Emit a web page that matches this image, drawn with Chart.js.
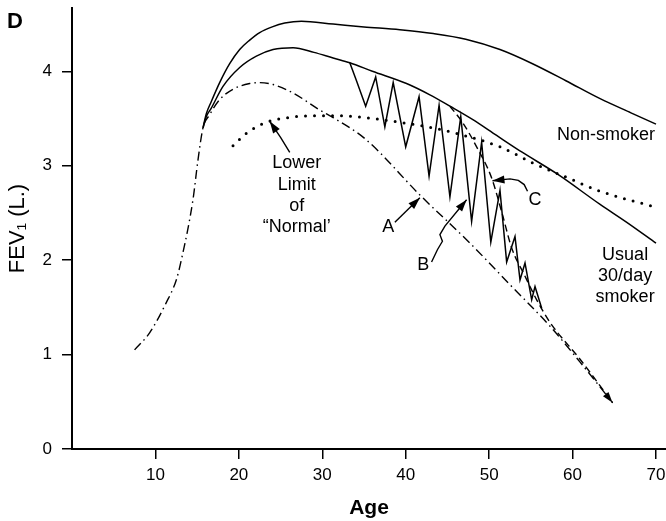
<!DOCTYPE html>
<html>
<head>
<meta charset="utf-8">
<script src="https://cdn.jsdelivr.net/npm/chart.js@4.4.1/dist/chart.umd.min.js"></script>
<style>
  html, body { margin: 0; padding: 0; background: #fff; }
  #wrap { width: 666px; height: 521px; }
</style>
</head>
<body>
<div id="wrap"><canvas id="fevChart" width="666" height="521"></canvas></div>
<script>
// ages (years) and FEV1 (litres)
const nonSmokerAge = [15.7, 16.1, 16.7, 17.7, 18.9, 20.1, 21.3, 22.5, 24.0, 25.5, 27.5, 31.3, 35.0, 39.3, 43.3, 47.2, 51.3, 55.2, 59.2, 63.3, 67.0, 70.0];
const nonSmokerFev = [3.40, 3.55, 3.68, 3.88, 4.08, 4.23, 4.33, 4.41, 4.47, 4.51, 4.53, 4.50, 4.47, 4.44, 4.40, 4.34, 4.23, 4.08, 3.90, 3.71, 3.56, 3.44];

const smokerAge = [15.7, 16.1, 16.7, 18.1, 20.1, 22.1, 24.1, 26.5, 29.0, 31.3, 33.3, 36.0, 40.1, 42.9, 45.3, 48.0, 50.9, 54.0, 58.2, 63.3, 66.5, 70.0];
const smokerFev = [3.40, 3.52, 3.61, 3.84, 4.04, 4.16, 4.23, 4.25, 4.20, 4.14, 4.09, 4.00, 3.87, 3.75, 3.63, 3.49, 3.32, 3.14, 2.91, 2.59, 2.40, 2.18];

const lowerLimitAge = [19.3, 21.0, 23.3, 26.0, 29.0, 32.0, 36.0, 40.0, 43.3, 47.0, 51.3, 55.2, 59.2, 63.3, 70.0];
const lowerLimitFev = [3.21, 3.35, 3.46, 3.51, 3.53, 3.53, 3.50, 3.45, 3.40, 3.32, 3.20, 3.03, 2.88, 2.73, 2.56];

// curve A (dash-dot), includes the growth phase
const curveAAge = [7.5, 9.3, 11.3, 12.5, 13.1, 14.5, 15.1, 15.7, 16.5, 17.7, 19.3, 21.3, 22.5, 24.1, 26.5, 29.7, 31.3, 35.2, 41.7, 47.7, 52.5, 57.3, 60.9, 64.8];
const curveAFev = [1.05, 1.23, 1.55, 1.79, 2.00, 2.64, 3.06, 3.40, 3.54, 3.70, 3.81, 3.87, 3.88, 3.86, 3.77, 3.59, 3.51, 3.28, 2.69, 2.18, 1.74, 1.30, 0.92, 0.49];

// curve B (zigzag)
const curveBAge = [33.3, 34.1, 35.2, 36.4, 37.5, 38.5, 40.0, 41.6, 42.8, 44.0, 45.3, 46.6, 47.9, 49.1, 50.2, 51.3, 52.1, 53.1, 53.7, 54.3, 55.1, 55.5, 56.3];
const curveBFev = [4.09, 3.90, 3.63, 3.94, 3.41, 3.88, 3.20, 3.73, 2.89, 3.64, 2.67, 3.52, 2.41, 3.25, 2.19, 2.74, 1.98, 2.25, 1.79, 1.97, 1.58, 1.72, 1.49];

// curve C (dashed)
const curveCAge = [45.3, 46.8, 48.5, 50.3, 51.6, 52.7, 54.3, 55.7, 57.3, 60.9, 64.8];
const curveCFev = [3.63, 3.46, 3.20, 2.87, 2.48, 2.13, 1.83, 1.58, 1.34, 0.95, 0.49];

const xTickValues = [10, 20, 30, 40, 50, 60, 70];
const yTickValues = [0, 1, 2, 3, 4];

const FONT = '"Liberation Sans", Arial, Helvetica, sans-serif';
Chart.defaults.font.family = FONT;
Chart.defaults.color = '#000';

function pts(ages, fevs) {
  return ages.map((a, i) => ({ x: a, y: fevs[i] }));
}

function arrowHead(ctx, fx, fy, tx, ty, len, half) {
  const ang = Math.atan2(ty - fy, tx - fx);
  const bx = tx - len * Math.cos(ang), by = ty - len * Math.sin(ang);
  ctx.beginPath();
  ctx.moveTo(tx, ty);
  ctx.lineTo(bx + half * Math.sin(ang), by - half * Math.cos(ang));
  ctx.lineTo(bx - half * Math.sin(ang), by + half * Math.cos(ang));
  ctx.closePath();
  ctx.fill();
}

// labels, pointer arrows and the panel letter
const notesPlugin = {
  id: 'notes',
  afterDraw(chart) {
    const { ctx, scales: { x, y } } = chart;
    const P = (a, f) => [x.getPixelForValue(a), y.getPixelForValue(f)];
    ctx.save();
    ctx.fillStyle = '#000';
    ctx.strokeStyle = '#000';
    ctx.lineWidth = 1.4;
    ctx.textAlign = 'center';
    ctx.textBaseline = 'middle';
    ctx.font = '18px ' + FONT;

    const text = (s, a, f) => { const [px, py] = P(a, f); ctx.fillText(s, px, py); };
    text('Lower', 26.95, 3.03);
    text('Limit', 26.95, 2.80);
    text('of', 26.95, 2.57);
    text('\u201CNormal\u2019', 26.95, 2.35);
    text('Non-smoker', 64.0, 3.33);
    text('Usual', 66.3, 2.05);
    text('30/day', 66.3, 1.83);
    text('smoker', 66.3, 1.61);
    text('A', 37.9, 2.35);
    text('B', 42.1, 1.95);
    text('C', 55.5, 2.64);

    const arrow = (list) => {
      const p = list.map(q => P(q[0], q[1]));
      ctx.beginPath();
      ctx.moveTo(p[0][0], p[0][1]);
      for (let i = 1; i < p.length; i++) ctx.lineTo(p[i][0], p[i][1]);
      ctx.stroke();
      const a = p[p.length - 2], b = p[p.length - 1];
      arrowHead(ctx, a[0], a[1], b[0], b[1], 12, 4);
    };
    arrow([[26.1, 3.14], [25.0, 3.30], [23.7, 3.47]]);
    arrow([[38.7, 2.40], [41.7, 2.66]]);
    arrow([[43.1, 1.98], [43.8, 2.11], [44.4, 2.20], [44.1, 2.27], [44.7, 2.36], [47.3, 2.64]]);
    arrow([[54.6, 2.73], [54.2, 2.80], [53.5, 2.845], [52.5, 2.86], [50.4, 2.84]]);

    // arrowhead at the end of A / C
    const e1 = P(60.9, 0.92), e2 = P(64.8, 0.49);
    arrowHead(ctx, e1[0], e1[1], e2[0], e2[1], 11, 3.5);

    ctx.textAlign = 'left';
    ctx.textBaseline = 'alphabetic';
    ctx.font = 'bold 22px ' + FONT;
    ctx.fillText('D', 7, 28);
    ctx.restore();
  }
};

const axisGrid = { display: true, drawOnChartArea: false, drawTicks: true, tickLength: 10, color: '#000', lineWidth: 1.5 };
const axisBorder = { display: true, color: '#000', width: 2 };

new Chart(document.getElementById('fevChart').getContext('2d'), {
  type: 'line',
  data: {
    datasets: [
      {
        label: 'Non-smoker',
        data: pts(nonSmokerAge, nonSmokerFev),
        borderColor: '#000', borderWidth: 1.5,
        cubicInterpolationMode: 'monotone', pointRadius: 0
      },
      {
        label: 'Usual 30/day smoker',
        data: pts(smokerAge, smokerFev),
        borderColor: '#000', borderWidth: 1.5,
        cubicInterpolationMode: 'monotone', pointRadius: 0
      },
      {
        label: 'Lower Limit of Normal',
        data: pts(lowerLimitAge, lowerLimitFev),
        borderColor: '#000', borderWidth: 3, borderDash: [0, 9], borderCapStyle: 'round',
        cubicInterpolationMode: 'monotone', pointRadius: 0
      },
      {
        label: 'A',
        data: pts(curveAAge, curveAFev),
        borderColor: '#000', borderWidth: 1.4, borderDash: [9, 4, 1.5, 4],
        cubicInterpolationMode: 'monotone', pointRadius: 0
      },
      {
        label: 'B',
        data: pts(curveBAge, curveBFev),
        borderColor: '#000', borderWidth: 1.5, tension: 0, pointRadius: 0
      },
      {
        label: 'C',
        data: pts(curveCAge, curveCFev),
        borderColor: '#000', borderWidth: 1.4, borderDash: [7, 4],
        cubicInterpolationMode: 'monotone', pointRadius: 0
      }
    ]
  },
  options: {
    responsive: false,
    animation: false,
    layout: { padding: { top: 8, left: 0, right: 0, bottom: 0 } },
    plugins: { legend: { display: false }, tooltip: { enabled: false } },
    scales: {
      x: {
        type: 'linear', min: 0, max: 71.2,
        afterBuildTicks: s => { s.ticks = xTickValues.map(v => ({ value: v })); },
        afterFit: s => { s.height = 72; s.paddingLeft = 0; s.paddingRight = 0; },
        ticks: { font: { size: 17 }, color: '#000', padding: 6 },
        grid: axisGrid,
        border: axisBorder,
        title: { display: true, text: 'Age', color: '#000', font: { size: 21, weight: 'bold' }, padding: { top: 0, bottom: 0 } }
      },
      y: {
        type: 'linear', min: 0, max: 4.67,
        afterBuildTicks: s => { s.ticks = yTickValues.map(v => ({ value: v })); },
        afterFit: s => { s.width = 72; s.paddingTop = 0; s.paddingBottom = 0; },
        ticks: { font: { size: 17 }, color: '#000', padding: 10 },
        grid: axisGrid,
        border: axisBorder,
        title: { display: true, text: 'FEV\u2081 (L.)', color: '#000', font: { size: 22 }, padding: { top: 5, bottom: 0 } }
      }
    }
  },
  plugins: [notesPlugin]
});
</script>
</body>
</html>
